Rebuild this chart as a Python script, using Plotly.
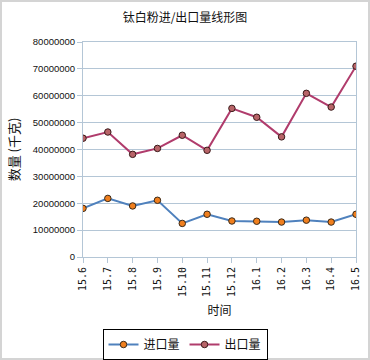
import plotly.graph_objects as go

months = ["15.6", "15.7", "15.8", "15.9", "15.10", "15.11", "15.12",
          "16.1", "16.2", "16.3", "16.4", "16.5"]
imports = [18100000, 21800000, 19000000, 21100000, 12500000, 15900000,
           13400000, 13300000, 13000000, 13700000, 13000000, 15900000]
exports = [44200000, 46500000, 38200000, 40400000, 45300000, 39700000,
           55300000, 52000000, 44700000, 60900000, 55800000, 71000000]
y_ticks = [0, 10000000, 20000000, 30000000, 40000000, 50000000,
           60000000, 70000000, 80000000]

FONT = "Liberation Sans, Noto Sans CJK SC, sans-serif"
MONO = "DejaVu Sans Mono, monospace"
CJK = "Noto Sans CJK SC"
GRID = "#b4c6d6"

fig = go.Figure()
fig.add_trace(go.Scatter(
    x=months, y=imports, name="进口量", mode="lines+markers",
    line=dict(color="#4f81bd", width=2),
    marker=dict(color="#f07f1e", size=6.5, line=dict(color="#3a2a1a", width=1)),
))
fig.add_trace(go.Scatter(
    x=months, y=exports, name="出口量", mode="lines+markers",
    line=dict(color="#b03c6c", width=2),
    marker=dict(color="#b86468", size=6.5, line=dict(color="#3a1a1a", width=1)),
))

W, H = 370, 360
L, R, T, B = 83, 14, 42, 103
pw, ph = W - L - R, H - T - B

fig.update_layout(
    width=W, height=H,
    margin=dict(l=L, r=R, t=T, b=B, autoexpand=False),
    paper_bgcolor="white", plot_bgcolor="white",
    font=dict(family=FONT, size=10, color="#111"),
    title=dict(text="钛白粉进/出口量线形图", x=0.5, xanchor="center",
               y=1 - 18 / H, yanchor="middle",
               font=dict(family=CJK, size=12, color="#111")),
    showlegend=True,
    legend=dict(orientation="h", x=(185 - L) / pw, xanchor="center",
                y=-(329 - (T + ph)) / ph, yanchor="top",
                bordercolor="#000", borderwidth=1,
                font=dict(family=CJK, size=12, color="#111"),
                itemwidth=30, tracegroupgap=0),
    xaxis=dict(type="category", categoryorder="array", categoryarray=months,
               range=[0, len(months) - 1], automargin=False,
               showgrid=False,
               showline=True, linecolor=GRID, linewidth=1, mirror=True,
               ticks="outside", ticklen=5, tickcolor=GRID,
               tickangle=-90, tickfont=dict(size=10, family=MONO),
               title=dict(text="时间", standoff=10,
                          font=dict(family=CJK, size=12))),
    yaxis=dict(range=[0, 80000000], tickvals=y_ticks,
               ticktext=[str(v) for v in y_ticks], automargin=False,
               showgrid=True, gridcolor=GRID, gridwidth=1,
               showline=True, linecolor=GRID, linewidth=1, mirror=True,
               zeroline=False,
               ticks="outside", ticklen=5, tickcolor=GRID,
               tickfont=dict(size=9.5, family=FONT),
               title=dict(text="数量 (千克)", standoff=10,
                          font=dict(family=CJK, size=13))),
)

fig.add_shape(type="rect", xref="paper", yref="paper",
              x0=-(L - 1) / pw, x1=1 + (R - 1) / pw,
              y0=-(B - 1) / ph, y1=1 + (T - 1) / ph,
              line=dict(color="#d4d4d4", width=2), layer="below")

fig.write_html("out.html", config={"displayModeBar": False},
               post_script="document.body.style.margin='0';"
                           "document.body.style.overflow='hidden';")
